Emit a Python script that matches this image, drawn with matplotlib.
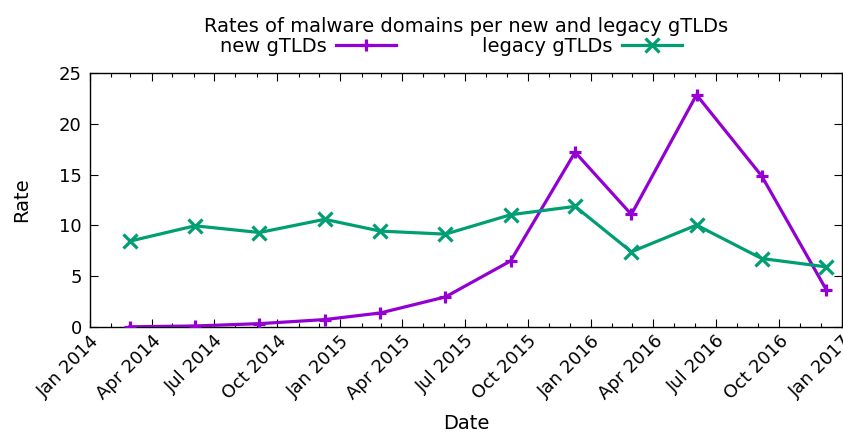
import matplotlib

matplotlib.use("Agg")
import matplotlib.dates as mdates
import matplotlib.pyplot as plt
import pandas as pd

DATES = [
    "2014-02-28", "2014-06-03", "2014-09-05", "2014-12-09",
    "2015-02-28", "2015-06-03", "2015-09-06", "2015-12-09",
    "2016-02-29", "2016-06-03", "2016-09-06", "2016-12-09",
]
NEW_GTLDS = [0.02, 0.1, 0.33, 0.73, 1.38, 2.96, 6.5, 17.2, 11.08, 22.85, 14.86, 3.68]
LEGACY_GTLDS = [8.45, 9.96, 9.3, 10.6, 9.44, 9.14, 11.05, 11.87, 7.4, 10.03, 6.74, 5.92]

plt.rcParams["font.family"] = ["DejaVu Sans"]
FS = 13
FS_TOP = 14

dates = pd.to_datetime(DATES)

fig = plt.figure(figsize=(8.43, 4.37), dpi=100)
ax = fig.add_axes([90 / 843, 1 - 327 / 437, 752 / 843, 254 / 437])

ax.plot(dates, NEW_GTLDS, color="#9400d3", lw=2.3, marker="+", ms=8, mew=2.3,
        label="new gTLDs", zorder=3)
ax.plot(dates, LEGACY_GTLDS, color="#009e73", lw=2.3, marker="x", ms=9.5, mew=2.3,
        label="legacy gTLDs", zorder=3)

ax.set_xlim(pd.Timestamp("2014-01-01"), pd.Timestamp("2017-01-01"))
ax.set_ylim(0, 25)
ax.set_yticks([0, 5, 10, 15, 20, 25])

ax.xaxis.set_major_locator(mdates.MonthLocator(bymonth=[1, 4, 7, 10]))
ax.xaxis.set_minor_locator(mdates.MonthLocator())
ax.xaxis.set_major_formatter(mdates.DateFormatter("%b %Y"))

ax.tick_params(which="both", direction="in", top=True, right=True, width=0.8,
               labelsize=FS)
ax.tick_params(which="major", length=5.8)
ax.tick_params(which="minor", length=3)
ax.tick_params(axis="x", which="major", pad=3.6)
ax.tick_params(axis="y", pad=6)
for lab in ax.get_xticklabels():
    lab.set_rotation(45)
    lab.set_ha("right")
    lab.set_va("top")
    lab.set_rotation_mode("anchor")
for sp in ax.spines.values():
    sp.set_linewidth(1.0)

ax.set_xlabel("Date", fontsize=FS_TOP, labelpad=8)
ax.set_ylabel("Rate", fontsize=FS_TOP, labelpad=20)

fig.text(466 / 843, 1 - 26 / 437, "Rates of malware domains per new and legacy gTLDs",
         ha="center", va="center", fontsize=FS_TOP)
fig.legend(loc="center", bbox_to_anchor=(451 / 843, 1 - 46 / 437), ncol=2,
           markerfirst=False, frameon=False, fontsize=FS_TOP, handlelength=3.1,
           handletextpad=0.5, columnspacing=4.4, borderaxespad=0, borderpad=0)

fig.savefig("out.png", dpi=100)
